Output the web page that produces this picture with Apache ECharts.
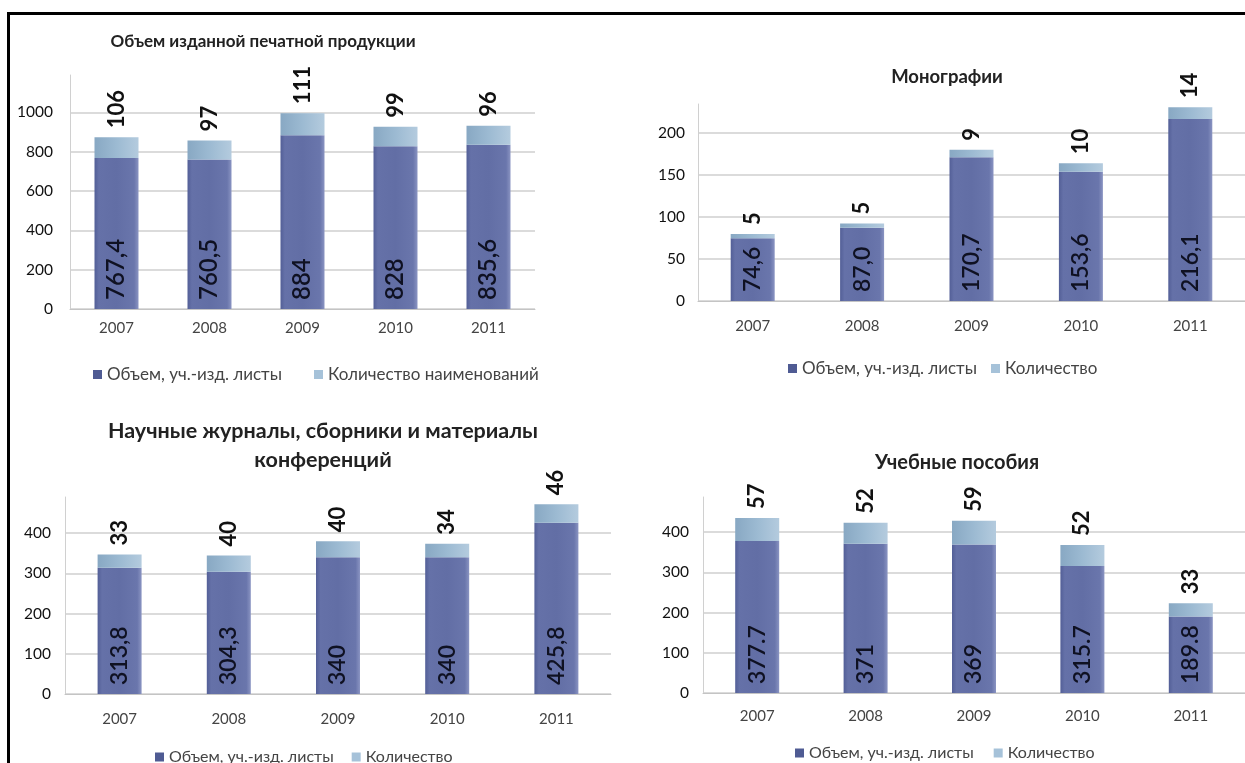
<!DOCTYPE html>
<html>
<head>
<meta charset="utf-8">
<script src="https://cdn.jsdelivr.net/npm/echarts@6/dist/echarts.min.js"></script>
<style>
  html, body { margin: 0; padding: 0; background: #fff; }
  #chart { width: 1245px; height: 763px; position: absolute; left: 0; top: 0; }
  #frame { position: absolute; left: 7px; top: 12px; width: 1238px; height: 751px;
           border-left: 3px solid #000; border-top: 3px solid #000; box-sizing: border-box; pointer-events: none; }
</style>
</head>
<body>
<div id="chart"></div>
<div id="frame"></div>
<script>
const years = ['2007', '2008', '2009', '2010', '2011'];

const pubVolume = [767.4, 760.5, 884, 828, 835.6];
const pubCount = [106, 97, 111, 99, 96];
const pubVolumeLabels = ['767,4', '760,5', '884', '828', '835,6'];

const monoVolume = [74.6, 87.0, 170.7, 153.6, 216.1];
const monoCount = [5, 5, 9, 10, 14];
const monoVolumeLabels = ['74,6', '87,0', '170,7', '153,6', '216,1'];

const journVolume = [313.8, 304.3, 340, 340, 425.8];
const journCount = [33, 40, 40, 34, 46];
const journVolumeLabels = ['313,8', '304,3', '340', '340', '425,8'];

const bookVolume = [377.7, 371, 369, 315.7, 189.8];
const bookCount = [57, 52, 59, 52, 33];
const bookVolumeLabels = ['377.7', '371', '369', '315.7', '189.8'];

const titles = ['Объем изданной печатной продукции', 'Монографии',
  'Научные журналы, сборники и материалы\nконференций', 'Учебные пособия'];
const volName = 'Объем, уч.-изд. листы';
const countNames = ['Количество наименований', 'Количество', 'Количество', 'Количество'];

const FONT = 'Lato, "Open Sans", sans-serif';
const darkFill = { type: 'linear', x: 0, y: 0, x2: 1, y2: 0, colorStops: [
  { offset: 0, color: '#535f97' }, { offset: 0.1, color: '#6571a8' },
  { offset: 0.5, color: '#626ea5' }, { offset: 0.9, color: '#6a76ac' }, { offset: 1, color: '#8a94c2' } ] };
const lightFill = { type: 'linear', x: 0, y: 0, x2: 1, y2: 0, colorStops: [
  { offset: 0, color: '#88a8c3' }, { offset: 0.5, color: '#9cbad2' }, { offset: 1, color: '#b4cbde' } ] };

const panels = [
  { vol: pubVolume, cnt: pubCount, lbl: pubVolumeLabels, grid: { left: 70, top: 75, width: 465, height: 234 }, max: 1190, interval: 200,
    yMargin: 17, xMargin: 12, inSize: 24,
    title: { x: 258, y: 26, lh: 22, size: 17 }, legend: { x: 88, y: 361, size: 17, gap: 32 } },
  { vol: monoVolume, cnt: monoCount, lbl: monoVolumeLabels, grid: { left: 698, top: 104, width: 548, height: 197 }, max: 234, interval: 50,
    yMargin: 13, xMargin: 18, inSize: 23,
    title: { x: 942, y: 61, lh: 22, size: 18.5 }, legend: { x: 783, y: 355, size: 17, gap: 14 } },
  { vol: journVolume, cnt: journCount, lbl: journVolumeLabels, grid: { left: 65, top: 497, width: 546, height: 197 }, max: 490, interval: 100,
    yMargin: 14, xMargin: 18, inSize: 23,
    title: { x: 318, y: 412, lh: 29, size: 21.5 }, legend: { x: 150, y: 744, size: 16, gap: 18 } },
  { vol: bookVolume, cnt: bookCount, lbl: bookVolumeLabels, grid: { left: 703, top: 497, width: 546, height: 196 }, max: 487, interval: 100,
    yMargin: 14, xMargin: 16, inSize: 23,
    title: { x: 952, y: 446, lh: 24, size: 20 }, legend: { x: 790, y: 740, size: 16, gap: 20 } }
];

const option = {
  backgroundColor: '#fff',
  animation: false,
  title: panels.map((p, i) => ({
    text: titles[i], left: p.title.x, top: p.title.y, textAlign: 'center',
    textStyle: { fontFamily: FONT, fontSize: p.title.size, fontWeight: 'bold', color: '#222', lineHeight: p.title.lh }
  })),
  legend: panels.map((p, i) => ({
    left: p.legend.x, top: p.legend.y, itemWidth: 9, itemHeight: 9, itemGap: p.legend.gap, icon: 'rect',
    textStyle: { fontFamily: FONT, fontSize: p.legend.size, color: '#444' },
    data: [{ name: volName, itemStyle: { color: '#4f5b93' } },
           { name: countNames[i], itemStyle: { color: '#a6c2d9' } }]
  })),
  grid: panels.map(p => Object.assign({ containLabel: false }, p.grid)),
  xAxis: panels.map((p, i) => ({
    gridIndex: i, type: 'category', data: years,
    axisLine: { lineStyle: { color: '#c4c4c4' } }, axisTick: { show: false },
    axisLabel: { fontFamily: FONT, fontSize: 15, color: '#444', margin: p.xMargin }
  })),
  yAxis: panels.map((p, i) => ({
    gridIndex: i, type: 'value', min: 0, max: p.max, interval: p.interval,
    axisLine: { show: true, lineStyle: { color: '#d0d0d0' } }, axisTick: { show: false },
    splitLine: { show: true, showMaxLine: false, lineStyle: { color: '#cfcfcf', width: 1.5 } },
    axisLabel: { fontFamily: FONT, fontSize: 15.5, color: '#111', margin: p.yMargin, showMaxLabel: false,
      formatter: (v) => String(v) }
  })),
  series: []
};

panels.forEach((p, i) => {
  option.series.push({
    name: volName, type: 'bar', stack: 's' + i, xAxisIndex: i, yAxisIndex: i,
    barWidth: 44, data: p.vol,
    itemStyle: { color: darkFill },
    label: { show: true, position: 'insideBottom', rotate: 90, align: 'left', verticalAlign: 'middle',
      distance: 9, fontFamily: FONT, fontSize: p.inSize, fontWeight: 600, color: '#0f1122',
      formatter: (d) => p.lbl[d.dataIndex] }
  });
  option.series.push({
    name: countNames[i], type: 'bar', stack: 's' + i, xAxisIndex: i, yAxisIndex: i,
    barWidth: 44, data: p.cnt,
    itemStyle: { color: lightFill },
    label: { show: true, position: 'top', rotate: 90, align: 'left', verticalAlign: 'middle',
      distance: 9, fontFamily: FONT, fontSize: 22, fontWeight: 'bold', color: '#111' }
  });
});

const chart = echarts.init(document.getElementById('chart'), null, { renderer: 'canvas' });
chart.setOption(option);
</script>
</body>
</html>
